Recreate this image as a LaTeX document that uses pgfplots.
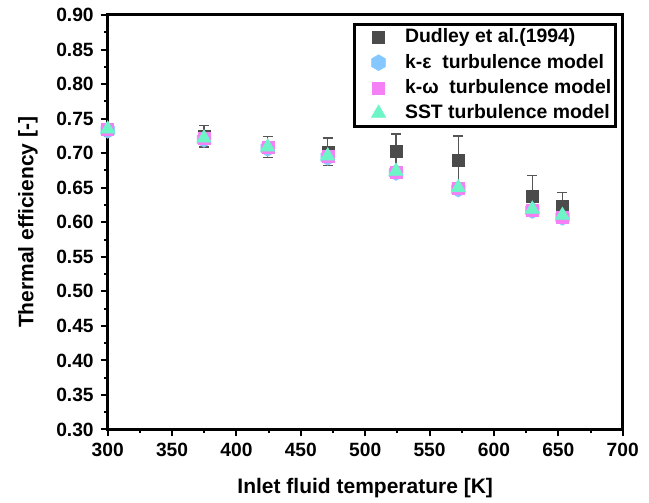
\documentclass[border=0pt]{standalone}
\usepackage{fontspec}
\setmainfont{Liberation Sans}
\usepackage{pgfplots}
\usepackage{pgfplotstable}
\pgfplotsset{compat=1.18}
\definecolor{dud}{HTML}{4B4B4B}
\definecolor{keps}{HTML}{85C8FF}
\definecolor{kom}{HTML}{F57FF5}
\definecolor{sst}{HTML}{6DF5C8}
\definecolor{errc}{HTML}{555555}
\pgfdeclareplotmark{hexagon*}{%
  \pgfpathmoveto{\pgfqpointpolar{90}{\pgfplotmarksize}}%
  \pgfpathlineto{\pgfqpointpolar{150}{\pgfplotmarksize}}%
  \pgfpathlineto{\pgfqpointpolar{210}{\pgfplotmarksize}}%
  \pgfpathlineto{\pgfqpointpolar{270}{\pgfplotmarksize}}%
  \pgfpathlineto{\pgfqpointpolar{330}{\pgfplotmarksize}}%
  \pgfpathlineto{\pgfqpointpolar{30}{\pgfplotmarksize}}%
  \pgfpathclose
  \pgfusepathqfillstroke}

\pgfplotstableread{
x y e
300 0.735 0
374.8 0.7245 0.0155
424.3 0.709 0.015
470.9 0.702 0.020
523.9 0.703 0.025
572.3 0.690 0.035
629.8 0.638 0.030
653.2 0.623 0.020
}\dudley

\pgfplotstableread{
x ke kw sst
300 0.733 0.734 0.735
374.8 0.720 0.721 0.722
424.3 0.707 0.708 0.709
470.9 0.694 0.695 0.696
523.9 0.672 0.673 0.674
572.3 0.648 0.649 0.650
629.8 0.617 0.618 0.619
653.2 0.607 0.608 0.610
}\models

\begin{document}
\begin{tikzpicture}
\useasboundingbox (-53.85pt,-36.75pt) rectangle (270.65pt,214.75pt);
\begin{axis}[
  at={(0,0)}, anchor=south west,
  scale only axis, width=257.5pt, height=207.25pt,
  xmin=300, xmax=700, ymin=0.30, ymax=0.90,
  xtick={300,350,400,450,500,550,600,650,700},
  ytick={0.30,0.35,0.40,0.45,0.50,0.55,0.60,0.65,0.70,0.75,0.80,0.85,0.90},
  minor x tick num=1, minor y tick num=1,
  xtick pos=bottom, ytick pos=left,
  tick align=outside,
  major tick length=3.5pt, minor tick length=1.8pt,
  every tick/.style={black, line width=1pt},
  axis line style={line width=1.5pt},
  /pgf/number format/assume math mode=true,
  yticklabel style={/pgf/number format/.cd, fixed, fixed zerofill, precision=2},
  ticklabel style={font=\bfseries\fontsize{9.6}{11}\selectfont},
  xticklabel style={/pgf/number format/1000 sep={}},
  xlabel={Inlet fluid temperature [K]},
  ylabel={Thermal efficiency [-]},
  label style={font=\bfseries\fontsize{10.5}{12}\selectfont},
  xlabel style={at={(axis description cs:0.5,-0.141)}, anchor=center},
  ylabel style={at={(axis description cs:-0.155,0.5)}, anchor=center, rotate=0},
  legend style={at={(axis description cs:1,1)}, anchor=north east,
    xshift=-3pt, yshift=-4pt,
    draw=black, line width=1.5pt,
    font=\bfseries\fontsize{9.7}{11}\selectfont,
    inner xsep=1pt, inner ysep=1pt,
    nodes={inner xsep=1pt, inner ysep=1.2pt},
    row sep=1.7pt},
  legend cell align=left,
  legend image code/.code={%
    \path (0pt,0pt) (22pt,0pt);
    \draw[#1] plot coordinates {(10.5pt,0pt)};},
]
\addplot[only marks, mark=square*, mark size=3pt,
  mark options={fill=dud, draw=dud, line width=0.2pt}]
  table[x=x, y=y] {\dudley};
\addlegendentry{Dudley et al.(1994)}
\addplot[only marks, mark=hexagon*, mark size=4pt,
  mark options={fill=keps, draw=keps, line width=0.2pt}]
  table[x=x, y=ke] {\models};
\addlegendentry{k-ε\ \ turbulence model}
\addplot[only marks, mark=square*, mark size=3pt,
  mark options={fill=kom, draw=kom, line width=0.2pt}]
  table[x=x, y=kw] {\models};
\addlegendentry{k-ω\ \ turbulence model}
\addplot[only marks, mark=triangle*, mark size=4.2pt,
  mark options={fill=sst, draw=sst, line width=0.2pt}]
  table[x=x, y=sst] {\models};
\addlegendentry{SST turbulence model}
\addplot[forget plot, draw=none, mark=none,
  error bars/.cd, y dir=both, y explicit,
  error bar style={draw=errc, line width=0.7pt},
  error mark options={rotate=90, mark size=2.5pt, draw=errc, line width=0.7pt}]
  table[x=x, y=y, y error=e] {\dudley};
\end{axis}
\end{tikzpicture}
\end{document}
